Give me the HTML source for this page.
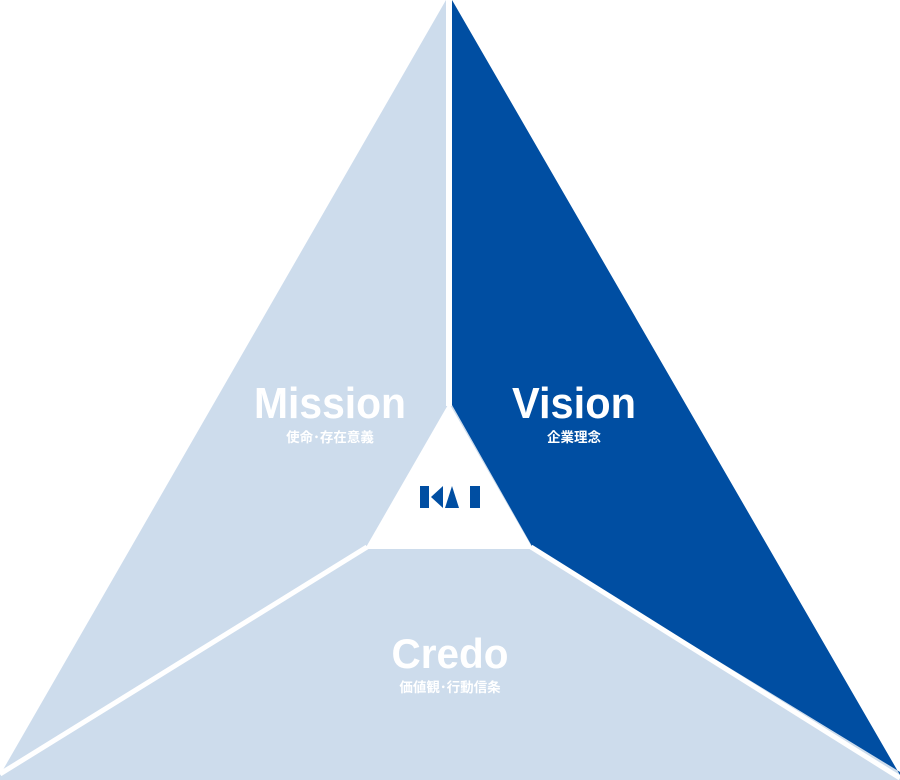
<!DOCTYPE html>
<html><head><meta charset="utf-8"><style>
html,body{margin:0;padding:0;background:#fff;}
svg{display:block;}
.t{font-family:"Liberation Sans",sans-serif;font-weight:bold;fill:#fff;}
.j{font-family:"Liberation Sans","Noto Sans CJK JP",sans-serif;font-weight:bold;fill:#fff;font-size:13.5px;}
</style></head><body>
<svg width="900" height="780" viewBox="0 0 900 780" xmlns="http://www.w3.org/2000/svg">
<polygon points="446,0 452,0 900,775 900,780 0,780 0,775" fill="#cddcec"/>
<polygon points="452,0 452,405 533,548 900,772 900,775" fill="#004ea2"/>
<line x1="449" y1="0" x2="449" y2="406" stroke="#fff" stroke-width="6"/>
<line x1="367" y1="547" x2="0" y2="774" stroke="#fff" stroke-width="5"/>
<line x1="531" y1="547" x2="900" y2="778" stroke="#fff" stroke-width="5"/>
<polygon points="449,403 533,549 365,549" fill="#fff"/>
<text class="t" x="330" y="418" font-size="44" text-anchor="middle" textLength="152" lengthAdjust="spacingAndGlyphs">Mission</text>
<text class="j" x="330" y="442" text-anchor="middle">使命･存在意義</text>
<text class="t" x="574" y="418" font-size="44" text-anchor="middle" textLength="124" lengthAdjust="spacingAndGlyphs">Vision</text>
<text class="j" x="574" y="442" text-anchor="middle">企業理念</text>
<text class="t" x="450" y="668" font-size="42" text-anchor="middle" textLength="117" lengthAdjust="spacingAndGlyphs">Credo</text>
<text class="j" x="450" y="692" text-anchor="middle">価値観･行動信条</text>
<g fill="#004ea2">
<rect x="420" y="486" width="9" height="22"/>
<polygon points="431,497 443,486 443,508"/>
<polygon points="445,508 452,486 459,508"/>
<rect x="470" y="486" width="10" height="22"/>
</g>
</svg>
</body></html>
